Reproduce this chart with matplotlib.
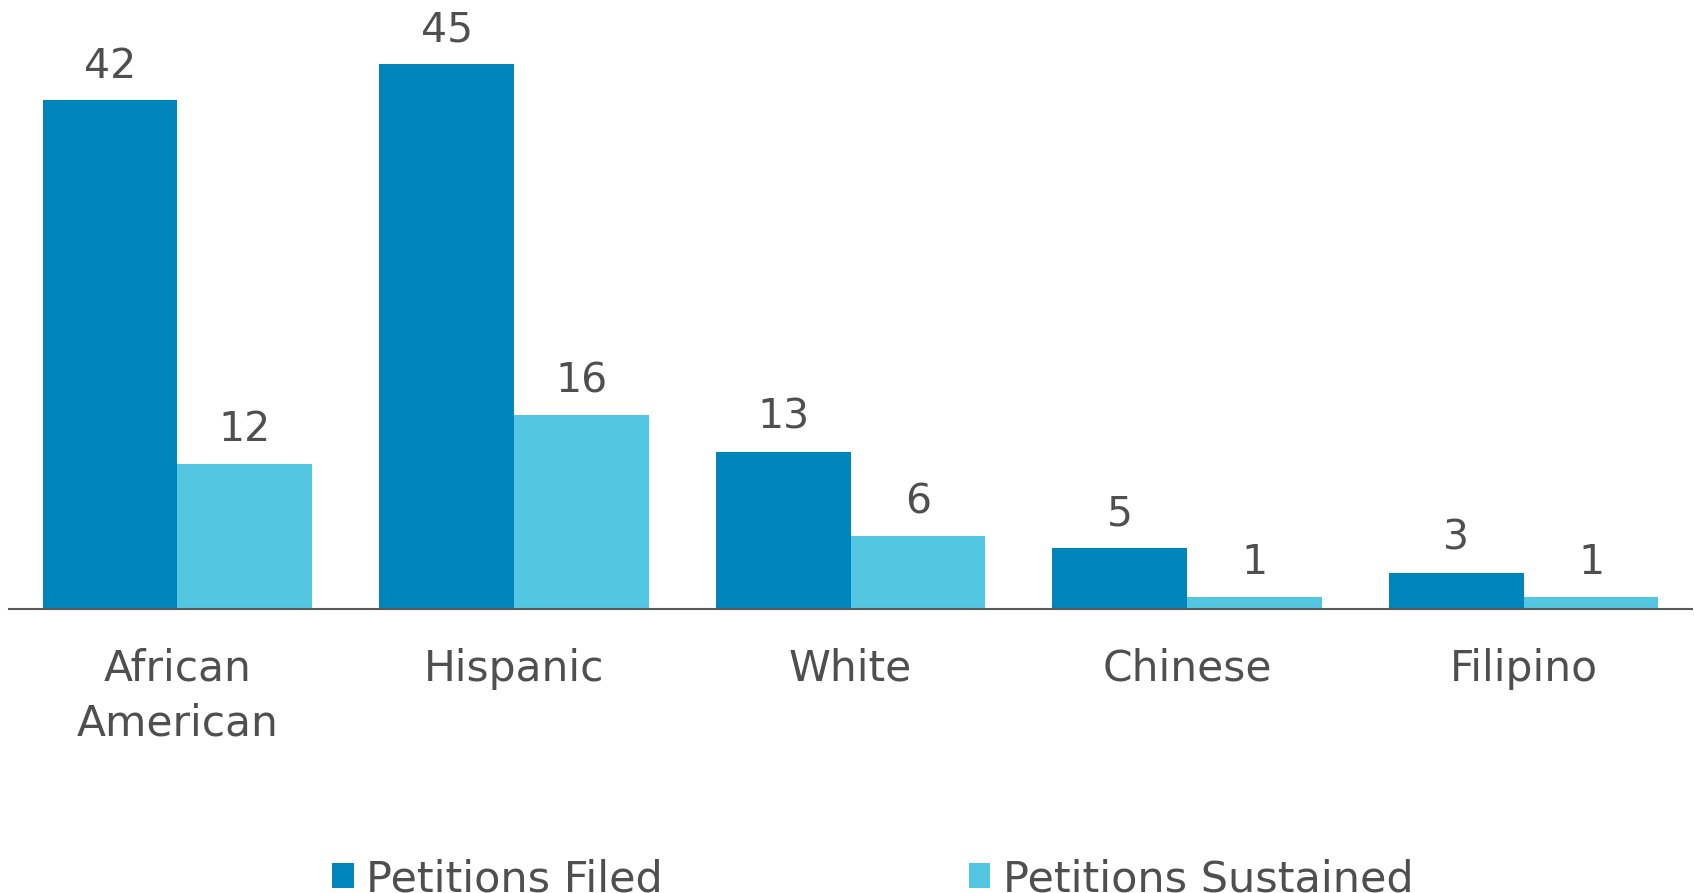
import numpy as np
import matplotlib
matplotlib.use('Agg')
import matplotlib.pyplot as plt

categories = ['African\nAmerican', 'Hispanic', 'White', 'Chinese', 'Filipino']
filed = [42, 45, 13, 5, 3]
sustained = [12, 16, 6, 1, 1]
series_names = ['Petitions Filed', 'Petitions Sustained']

dark = '#0084bc'
light = '#53c7e2'
grey = '#4f4f4f'

plt.rcParams['font.family'] = 'DejaVu Sans'

fig = plt.figure(figsize=(16.94, 8.93), dpi=100)
ax = fig.add_axes([9 / 1694, (893 - 609) / 893, 1683 / 1694, 609 / 893])

x = np.arange(len(categories))
w = 0.4
b1 = ax.bar(x - w / 2, filed, w, color=dark, label=series_names[0])
b2 = ax.bar(x + w / 2, sustained, w, color=light, label=series_names[1])

# value labels on top of bars
ax.bar_label(b1, padding=10, fontsize=29.5, color=grey)
ax.bar_label(b2, padding=10, fontsize=29.5, color=grey)

ax.set_xlim(-0.5, len(categories) - 0.5)
ax.set_ylim(0, 50.3)
ax.set_xticks(x)
ax.set_xticklabels(categories, fontsize=30.5, color=grey, linespacing=1.37)
ax.tick_params(axis='x', length=0, pad=28)
ax.set_yticks([])
for s in ['top', 'right', 'left']:
    ax.spines[s].set_visible(False)
ax.spines['bottom'].set_color('#595959')
ax.spines['bottom'].set_linewidth(1.5)

leg = fig.legend(handles=[b1, b2], loc='center', bbox_to_anchor=(873 / 1694, 14 / 893),
                 ncol=2, frameon=False, fontsize=31, handlelength=0.5, handleheight=0.5,
                 handletextpad=0.3, columnspacing=7.1, borderpad=0)
for t in leg.get_texts():
    t.set_color(grey)

fig.savefig('out.png', dpi=100)
